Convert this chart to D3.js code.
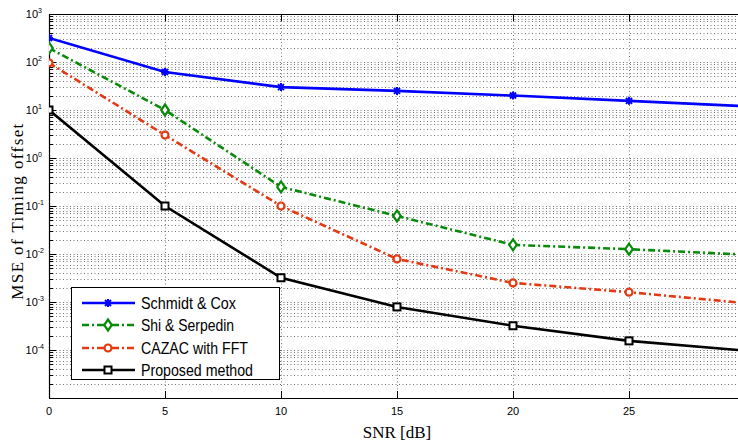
<!DOCTYPE html>
<html>
<head>
<meta charset="utf-8">
<script src="https://d3js.org/d3.v7.min.js"></script>
<style>
  body { margin: 0; background: #fff; }
  svg { display: block; }
  .tick-label { font-family: "Liberation Sans", Arial, sans-serif; font-size: 11px; fill: #000; }
  .axis-title { font-family: "Liberation Serif", "Times New Roman", serif; font-size: 17px; fill: #000; }
  .legend-text { font-family: "Liberation Sans", Arial, sans-serif; font-size: 17px; fill: #000; }
</style>
</head>
<body>
<div id="chart"></div>
<script>
// SNR values (dB)
var snr = [0, 5, 10, 15, 20, 25, 30];

// MSE of timing offset
var schmidtCox   = [316, 62, 30, 25, 20, 15.5, 12];
var shiSerpedin  = [195, 10, 0.25, 0.062, 0.0155, 0.0126, 0.0097];
var cazacFFT     = [96, 3.0, 0.1, 0.0079, 0.0025, 0.0016, 0.00095];
var proposed     = [10, 0.1, 0.0032, 0.00079, 0.00032, 0.000155, 0.000097];

var seriesNames = ["Schmidt & Cox", "Shi & Serpedin", "CAZAC with FFT", "Proposed method"];
var xTicks = [0, 5, 10, 15, 20, 25, 30];
var yDecades = [-4, -3, -2, -1, 0, 1, 2, 3];

var width = 738, height = 443;
var pLeft = 49, pTop = 14, pBottom = 398, pRight = 745;

var svg = d3.select("#chart").append("svg")
    .attr("width", width)
    .attr("height", height);

var x = d3.scaleLinear().domain([0, 30]).range([pLeft, pRight]);
var y = d3.scaleLog().domain([1e-5, 1e3]).range([pBottom, pTop]);

svg.append("defs").append("clipPath").attr("id", "plotclip")
  .append("rect")
    .attr("x", pLeft).attr("y", pTop - 8)
    .attr("width", width - pLeft).attr("height", pBottom - pTop + 16);

var grid = svg.append("g");

// horizontal grid: every minor value of the log axis
var yGrid = [];
for (var k = -5; k < 3; k++) {
  for (var m = 1; m < 10; m++) yGrid.push(m * Math.pow(10, k));
}
yGrid.push(1000);

grid.selectAll(".hgrid")
    .data(yGrid.filter(function(v){ return v > 1e-5 && v < 1e3; }))
  .enter().append("line")
    .attr("x1", pLeft).attr("x2", width)
    .attr("y1", function(d){ return Math.round(y(d)) + 0.5; })
    .attr("y2", function(d){ return Math.round(y(d)) + 0.5; })
    .style("stroke", "#555")
    .style("stroke-width", 0.8)
    .style("stroke-dasharray", "1,2.5");

grid.selectAll(".vgrid")
    .data(xTicks.filter(function(v){ return v > 0 && x(v) < width; }))
  .enter().append("line")
    .attr("x1", function(d){ return Math.round(x(d)) + 0.5; })
    .attr("x2", function(d){ return Math.round(x(d)) + 0.5; })
    .attr("y1", pTop).attr("y2", pBottom)
    .style("stroke", "#555")
    .style("stroke-width", 0.8)
    .style("stroke-dasharray", "1,2.5");

// tick marks
var ticks = svg.append("g").style("stroke", "#000").style("stroke-width", 1);
ticks.selectAll(".ytick")
    .data(yGrid)
  .enter().append("line")
    .attr("x1", pLeft)
    .attr("x2", function(d){
      var isMajor = Math.abs(Math.log10(d) - Math.round(Math.log10(d))) < 1e-9;
      return pLeft + (isMajor ? 7 : 4);
    })
    .attr("y1", function(d){ return Math.round(y(d)) + 0.5; })
    .attr("y2", function(d){ return Math.round(y(d)) + 0.5; });

ticks.selectAll(".xtick")
    .data(xTicks.filter(function(v){ return v > 0 && x(v) < width; }))
  .enter().append("g")
    .each(function(d){
      var g = d3.select(this), px = Math.round(x(d)) + 0.5;
      g.append("line").attr("x1", px).attr("x2", px).attr("y1", pBottom).attr("y2", pBottom - 7);
      g.append("line").attr("x1", px).attr("x2", px).attr("y1", pTop).attr("y2", pTop + 7);
    });

// frame
svg.append("line").attr("x1", pLeft).attr("x2", width).attr("y1", pBottom + 0.5).attr("y2", pBottom + 0.5)
    .style("stroke", "#000").style("stroke-width", 1.2);
svg.append("line").attr("x1", pLeft).attr("x2", width).attr("y1", pTop + 0.5).attr("y2", pTop + 0.5)
    .style("stroke", "#000").style("stroke-width", 1.2);
svg.append("line").attr("x1", pLeft + 0.5).attr("x2", pLeft + 0.5).attr("y1", pTop).attr("y2", pBottom)
    .style("stroke", "#000").style("stroke-width", 1.2);

// x tick labels
svg.selectAll(".xlab")
    .data(xTicks.filter(function(v){ return x(v) < width; }))
  .enter().append("text")
    .attr("class", "tick-label")
    .attr("x", function(d){ return x(d); })
    .attr("y", 415)
    .attr("text-anchor", "middle")
    .text(function(d){ return d; });

// y tick labels 10^k
var ylab = svg.selectAll(".ylab")
    .data(yDecades)
  .enter().append("text")
    .attr("class", "tick-label")
    .attr("x", function(d){ return d < 0 ? 44 : 42; })
    .attr("y", function(d){ return y(Math.pow(10, d)) + 4; })
    .attr("text-anchor", "end");
ylab.append("tspan").text("10");
ylab.append("tspan")
    .attr("dy", -5)
    .style("font-size", "7px")
    .text(function(d){ return d; });

// axis titles
svg.append("text")
    .attr("class", "axis-title")
    .attr("x", 397)
    .attr("y", 438)
    .attr("text-anchor", "middle")
    .text("SNR [dB]");

svg.append("text")
    .attr("class", "axis-title")
    .attr("transform", "translate(23,211) rotate(-90)")
    .attr("text-anchor", "middle")
    .style("letter-spacing", "1.4px")
    .text("MSE of Timing offset");

// series
var series = [
  { name: seriesNames[0], values: schmidtCox,  color: "#0000ff", dash: null,      marker: "star" },
  { name: seriesNames[1], values: shiSerpedin, color: "#0a8a0a", dash: "7,3,2,3", marker: "diamond" },
  { name: seriesNames[2], values: cazacFFT,    color: "#e33a14", dash: "7,3,2,3", marker: "circle" },
  { name: seriesNames[3], values: proposed,    color: "#000000", dash: null,      marker: "square" }
];

var line = d3.line()
    .x(function(d){ return x(d[0]); })
    .y(function(d){ return y(d[1]); });

function drawMarker(g, type, cx, cy, color) {
  if (type === "star") {
    g.append("path")
      .attr("d", "M-4,0L4,0M0,-4L0,4M-3,-3L3,3M-3,3L3,-3")
      .attr("transform", "translate(" + cx + "," + cy + ")")
      .style("fill", "none").style("stroke", color).style("stroke-width", 2);
  } else if (type === "diamond") {
    g.append("path")
      .attr("d", "M0,-5.5L3.8,0L0,5.5L-3.8,0Z")
      .attr("transform", "translate(" + cx + "," + cy + ")")
      .style("fill", "#fff").style("stroke", color).style("stroke-width", 2.2);
  } else if (type === "circle") {
    g.append("circle")
      .attr("cx", cx).attr("cy", cy).attr("r", 3.5)
      .style("fill", "#fff").style("stroke", color).style("stroke-width", 2.2);
  } else {
    g.append("rect")
      .attr("x", cx - 3.5).attr("y", cy - 3.5).attr("width", 7).attr("height", 7)
      .style("fill", "#fff").style("stroke", color).style("stroke-width", 2);
  }
}

var plot = svg.append("g").attr("clip-path", "url(#plotclip)");
series.forEach(function(s) {
  var pts = snr.map(function(v, i){ return [v, s.values[i]]; });
  plot.append("path")
      .datum(pts)
      .attr("d", line)
      .style("fill", "none")
      .style("stroke", s.color)
      .style("stroke-width", 2.6)
      .style("stroke-dasharray", s.dash);
  var mg = plot.append("g");
  pts.forEach(function(p){ drawMarker(mg, s.marker, x(p[0]), y(p[1]), s.color); });
});

// legend
var lg = svg.append("g");
lg.append("rect")
    .attr("x", 71.5).attr("y", 287.5)
    .attr("width", 208).attr("height", 92)
    .style("fill", "#fff").style("stroke", "#000").style("stroke-width", 1);

var legendRows = [303, 325, 348, 370];
var legendWidths = [95, 93, 107, 112];
series.forEach(function(s, i) {
  var ry = legendRows[i];
  lg.append("line")
      .attr("x1", 82).attr("x2", 135)
      .attr("y1", ry).attr("y2", ry)
      .style("stroke", s.color)
      .style("stroke-width", 2.6)
      .style("stroke-dasharray", s.dash);
  drawMarker(lg, s.marker, 108, ry, s.color);
  lg.append("text")
      .attr("class", "legend-text")
      .attr("x", 141)
      .attr("y", ry + 6)
      .attr("textLength", legendWidths[i])
      .attr("lengthAdjust", "spacingAndGlyphs")
      .text(s.name);
});
</script>
</body>
</html>
